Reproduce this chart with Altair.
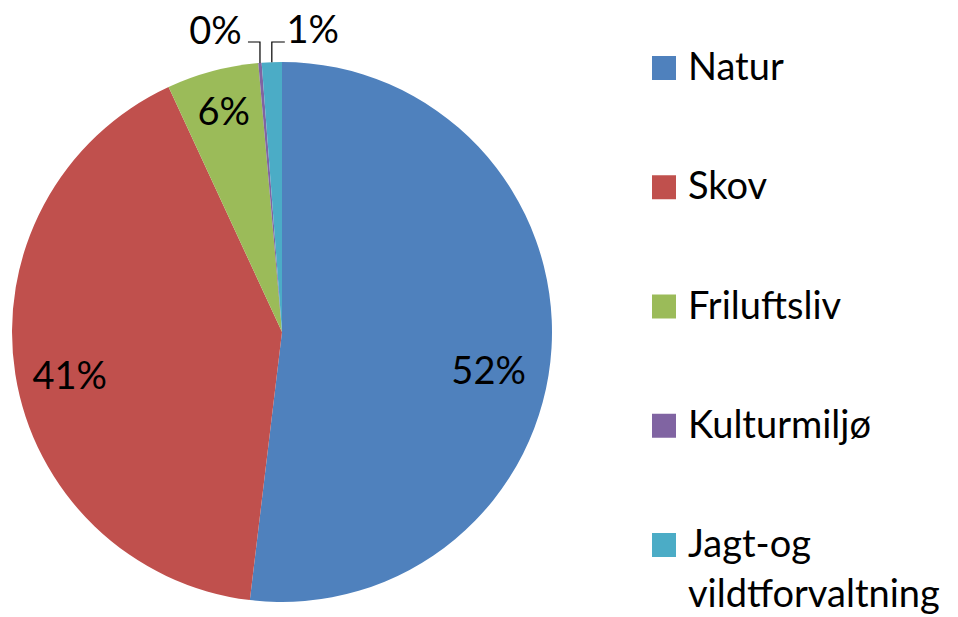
import math
import altair as alt
import pandas as pd

categories = ["Natur", "Skov", "Friluftsliv", "Kulturmiljø", "Jagt-og vildtforvaltning"]
legend_labels = ["Natur", "Skov", "Friluftsliv", "Kulturmiljø", "Jagt-og\nvildtforvaltning"]
values = [51.9, 41.2, 5.5, 0.2, 1.2]
pct_labels = ["52%", "41%", "6%", "0%", "1%"]
colors = ["#4F81BD", "#C0504D", "#9BBB59", "#8064A2", "#4BACC6"]

W, H = 942, 609
CX, CY, R = 274, 324, 270
FONT = "Lato"
FS = 38

df = pd.DataFrame({
    "cat": categories,
    "legend": legend_labels,
    "value": values,
    "label": pct_labels,
    "idx": list(range(len(categories))),
})

color = alt.Color("cat:N", scale=alt.Scale(domain=categories, range=colors), legend=None)
theta = alt.Theta("value:Q", stack=True)
order = alt.Order("idx:Q")

base = alt.Chart(df)

pie = base.mark_arc(radius=R).encode(
    theta=theta, color=color, order=order,
    x=alt.value(CX), y=alt.value(CY),
)

# label placement (style): radius, dx, dy per slice
placement = {
    "Natur": (210, -3, 28),
    "Skov": (215, 0, 12),
    "Friluftsliv": (226, 0, 0),
    "Kulturmiljø": (300, -42, 0),
    "Jagt-og vildtforvaltning": (300, 42, 0),
}

label_layers = []
for cat, (rad, dx, dy) in placement.items():
    lay = base.transform_calculate(
        t=f"datum.cat === '{cat}' ? datum.label : ''"
    ).mark_text(
        radius=rad, dx=dx, dy=dy, font=FONT, fontSize=FS, color="black",
        align="center", baseline="middle",
    ).encode(
        theta=theta, order=order, text="t:N",
        x=alt.value(CX), y=alt.value(CY),
    )
    label_layers.append(lay)

# leader lines for the two small outside labels, derived from the slice angles
total = sum(values)
cum = 0
rows = []
for cat, v in zip(categories, values):
    mid = (cum + v / 2) / total * 2 * math.pi
    cum += v
    if cat in ("Kulturmiljø", "Jagt-og vildtforvaltning"):
        xr = CX + R * math.sin(mid)
        yr = CY - R * math.cos(mid)
        ye = CY - R - 20
        side = -12 if cat == "Kulturmiljø" else 13
        pts = [(xr, yr), (xr, ye), (xr + side, ye)]
        for i, (px, py) in enumerate(pts):
            rows.append({"cat": cat, "px": px, "py": py, "o": i})
lead_df = pd.DataFrame(rows)

leaders = alt.Chart(lead_df).mark_line(color="black", strokeWidth=1.2).encode(
    x=alt.X("px:Q", scale=None, axis=None),
    y=alt.Y("py:Q", scale=None, axis=None),
    detail="cat:N",
    order="o:Q",
)

legend_y = alt.Y("cat:N", scale=alt.Scale(domain=categories, range=[60, 537], padding=0), axis=None)

leg_sq = base.mark_square(size=576, opacity=1).encode(
    x=alt.value(656), y=legend_y, color=color,
)
leg_txt = base.mark_text(
    align="left", baseline="alphabetic", dy=12, font=FONT, fontSize=FS,
    lineBreak="\n", lineHeight=50, color="black",
).encode(
    x=alt.value(680), y=legend_y, text="legend:N",
)

chart = alt.layer(pie, *label_layers, leaders, leg_sq, leg_txt).resolve_scale(
    y="independent", x="independent"
).properties(
    width=W, height=H, padding=0, autosize=alt.AutoSizeParams(type="none"),
).configure_view(stroke=None)

chart.save("out.html", embed_options={"renderer": "svg", "actions": False})
